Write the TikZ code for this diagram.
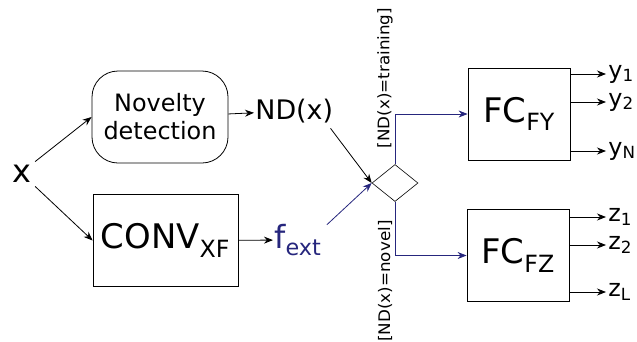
\documentclass[tikz,border=0pt]{standalone}
\usepackage{fontspec}
\setmainfont{DejaVu Sans}
\newfontfamily\widesans[FakeStretch=1.05]{DejaVu Sans}
\usetikzlibrary{arrows.meta,shapes.geometric}
\definecolor{navy}{RGB}{38,38,125}

\begin{document}
\begin{tikzpicture}[x=1bp,y=-1bp,>={Stealth[length=9bp,width=7bp]},line width=0.8bp]
\tikzset{
  block/.style={draw,minimum width=#1,minimum height=92bp,inner sep=0pt},
  big/.style={font=\fontsize{34}{34}\selectfont},
  mid/.style={font=\fontsize{27}{27}\selectfont},
  outlbl/.style={anchor=west,inner sep=2bp,font=\fontsize{24}{24}\selectfont},
  branch/.style={rotate=90,inner sep=0pt,font=\widesans\fontsize{16}{16}\selectfont}
}
\useasboundingbox (0,0) rectangle (637,341);
\node[font=\fontsize{32}{32}\selectfont] (x) at (22,174) {x};
\node[draw,rounded corners=26bp,minimum width=136bp,minimum height=92bp,align=center,
  font=\fontsize{24}{28}\selectfont] (nov) at (160,117) {Novelty\\detection};
\node[block=145bp,big] (conv) at (165.5,240.5) {CONV\textsubscript{XF}};
\node[mid,anchor=west,inner sep=1bp] (nd) at (254,111) {ND(x)};
\node[anchor=west,inner sep=1bp,text=navy,font=\fontsize{32}{32}\selectfont] (fext) at (273,240) {f\textsubscript{ext}};
\node[draw,diamond,minimum width=46bp,minimum height=37bp,inner sep=0pt,line width=0.6bp] (dec) at (395,183) {};
\node[block=102bp,big] (fcy) at (519,114) {FC\textsubscript{FY}};
\node[block=102bp,big] (fcz) at (518,255.5) {FC\textsubscript{FZ}};
\node[branch] (tr) at (385,78) {[ND(x)=training]};
\node[branch] (nv) at (385,281) {[ND(x)=novel]};
% outputs
\node[outlbl] (y1) at (606,74) {y\textsubscript{1}};
\node[outlbl] (y2) at (606,102) {y\textsubscript{2}};
\node[outlbl] (yn) at (606,151) {y\textsubscript{N}};
\node[outlbl] (z1) at (606,217) {z\textsubscript{1}};
\node[outlbl] (z2) at (606,245) {z\textsubscript{2}};
\node[outlbl] (zl) at (606,292) {z\textsubscript{L}};
\draw[->] (x.north east) -- (nov.west);
\draw[->] (x.south east) -- (conv.west);
\draw[->] (nov) -- (nd);
\draw[->] (conv) -- (fext);
\draw[->] (nd.south east) ++(-4,4) -- (dec.west);
\draw[->,navy] (fext.north east) ++(4,2) -- (dec.west);
\draw[->,navy] (dec.north) |- (fcy.west);
\draw[->,navy] (dec.south) |- (fcz.west);
\foreach \o in {y1,y2,yn} \draw[->] (fcy.east |- \o) -- (\o);
\foreach \o in {z1,z2,zl} \draw[->] (fcz.east |- \o) -- (\o);
\end{tikzpicture}
\end{document}
